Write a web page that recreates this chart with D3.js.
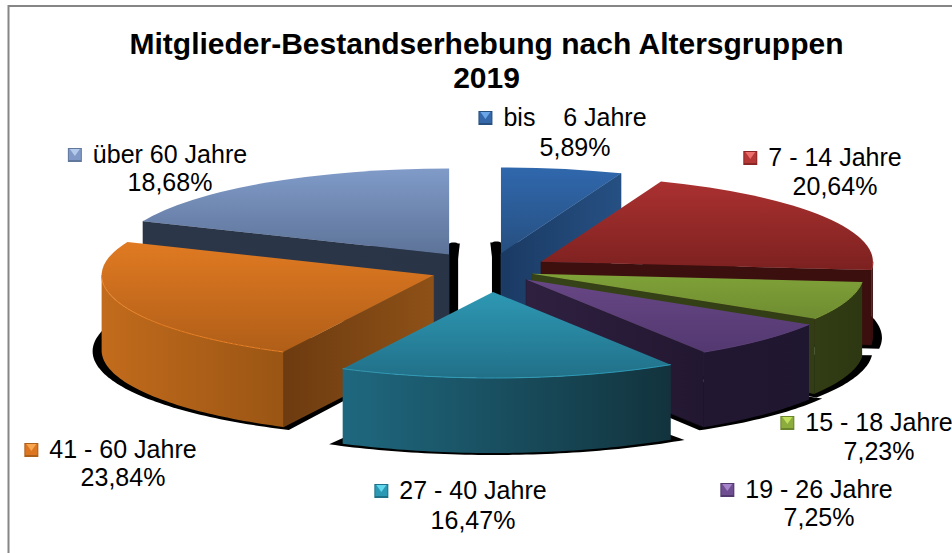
<!DOCTYPE html>
<html>
<head>
<meta charset="utf-8">
<script src="https://cdnjs.cloudflare.com/ajax/libs/d3/7.8.5/d3.min.js"></script>
<style>
  body { margin: 0; background: #fff; }
  text { font-family: "Liberation Sans", Arial, sans-serif; fill: #000; }
</style>
</head>
<body>
<div id="chart"></div>
<script>
var titleLines = ["Mitglieder-Bestandserhebung nach Altersgruppen", "2019"];
var categories = ["bis    6 Jahre", "7 - 14 Jahre", "15 - 18 Jahre", "19 - 26 Jahre", "27 - 40 Jahre", "41 - 60 Jahre", "über 60 Jahre"];
var shares = [5.89, 20.64, 7.23, 7.25, 16.47, 23.84, 18.68];
// how far each slice is pulled out of the pie, px along the x radius
var explosion = [65, 61, 45, 52, 85, 59, 72];

var width = 952, height = 553;
var cx = 489, cy = 270, rx = 332, ry = 86, depth = 75;

// back to front
var paintOrder = [6, 0, 1, 2, 3, 5, 4];

var topColors = [["#3068ad", "#264f80"], ["#aa3130", "#7c2120"], ["#7fa238", "#6f8c31"], ["#674785", "#533870"], ["#2e98b4", "#217088"], ["#e07a22", "#b05e18"], ["#809bc9", "#5d7398"]];
var wallColors = [["#1b3b65", "#275083"], ["#3d100e", "#3a0f0e"], ["#323d15", "#2d3812"], ["#221731", "#1f1630"], ["#1f687f", "#12333d"], ["#c26b1c", "#9a5514"], ["#2b3548", "#2b3548"]];
var faceColors = [["#1a3a63", "#265083"], ["#3d100e", "#3a0f0e"], ["#364217", "#323d15"], ["#2f2040", "#221731"], ["#1f687f", "#12333d"], ["#6d3b10", "#8e5117"], ["#2c3649", "#2a3447"]];
var rimColors = ["#4a7fc0", "#9c2d2c", "#7c9c38", "#5c3f7a", "#2f9ab6", "#ea8228", "#9bb4dc"];

var labelX = [575, 835, 879, 819, 473, 123, 170];
var labelY = [126, 166, 431, 498, 499, 458, 163];
var labelGap = [30, 29, 29, 28, 30, 28, 28];
var keyColors = [["#6aa5e8", "#3468aa", "#28507f"], ["#ec6f6c", "#b53736", "#8a2726"], ["#c0e05c", "#8cac3e", "#6a852c"], ["#a684cc", "#6f4f92", "#52396e"], ["#62d8ee", "#2c99b4", "#1f7188"], ["#f8a650", "#dc7621", "#ae5f18"], ["#b4caec", "#8099c6", "#62779c"]];

var svg = d3.select("#chart").append("svg")
  .attr("width", width)
  .attr("height", height);
var defs = svg.append("defs");

function addGradient(id, colors, vertical) {
  var g = defs.append("linearGradient").attr("id", id)
    .attr("x1", 0).attr("y1", 0)
    .attr("x2", vertical ? 0 : 1).attr("y2", vertical ? 1 : 0);
  g.append("stop").attr("offset", 0).attr("stop-color", colors[0]);
  g.append("stop").attr("offset", 1).attr("stop-color", colors[1]);
}

shares.forEach(function (d, i) {
  addGradient("top" + i, topColors[i], true);
  addGradient("wall" + i, wallColors[i], false);
  addGradient("face" + i, faceColors[i], false);
});

// frame, open to the right and bottom
svg.append("path")
  .attr("d", "M8.5," + height + "V6H" + width)
  .attr("fill", "none")
  .attr("stroke", "#868686")
  .attr("stroke-width", 2);

var titleG = svg.append("g").attr("class", "title");
titleG.selectAll("text")
  .data(titleLines)
  .enter().append("text")
  .attr("x", 486.5)
  .attr("y", function (d, i) { return 54 + i * 34; })
  .attr("text-anchor", "middle")
  .attr("font-weight", "bold")
  .attr("font-size", 30)
  .text(function (d) { return d; });

var pie = d3.pie().sort(null)
  .value(function (d) { return d; });
var slices = pie(shares);

var angleOf = function (d) { return (d.startAngle + d.endAngle) / 2; };
slices.forEach(function (d, i) {
  var mid = angleOf(d);
  d.index = i;
  d.px = cx + explosion[i] * Math.sin(mid);
  d.py = cy - explosion[i] * Math.cos(mid) * ry / rx;
});

function onRim(d, a, rxx, ryy, dy) {
  return [d.px + rxx * Math.sin(a), d.py - ryy * Math.cos(a) + (dy || 0)];
}

function arcPoints(d, a0, a1, rxx, ryy, dy) {
  var n = Math.max(2, Math.ceil(Math.abs(a1 - a0) / 0.02));
  return d3.range(n + 1).map(function (k) {
    return onRim(d, a0 + (a1 - a0) * k / n, rxx, ryy, dy);
  });
}

var poly = d3.line().curve(d3.curveLinearClosed);
var open = d3.line();
var spread = 1.8 * Math.PI / 180;

// black shadow under every slice
var shadowG = svg.append("g").attr("class", "shadows");
slices.forEach(function (d) {
  var pts = arcPoints(d, d.startAngle - spread, d.endAngle + spread, rx + 9, ry + 1, depth + 1);
  pts.push([d.px, d.py + depth + 3]);
  shadowG.append("path").attr("d", poly(pts)).attr("fill", "#000");

  // the slices next to 12 o'clock throw a strip along their straight edge
  if (d.startAngle === 0 || Math.abs(d.endAngle - 2 * Math.PI) < 1e-6) {
    shadowG.append("rect")
      .attr("x", d.startAngle === 0 ? d.px - 9 : d.px)
      .attr("y", d.py - 12)
      .attr("width", 9)
      .attr("height", depth + 12)
      .attr("rx", 3)
      .attr("fill", "#000");
  }
});

var arc = d3.arc().innerRadius(0).outerRadius(rx);

var sliceG = svg.append("g").attr("class", "slices").selectAll("g")
  .data(paintOrder.map(function (i) { return slices[i]; }))
  .enter().append("g");

// straight cut faces, only those turned to the viewer
sliceG.each(function (d) {
  var g = d3.select(this);
  var edges = [];
  if (Math.sin(d.startAngle) < -1e-6) edges.push(d.startAngle);
  if (Math.sin(d.endAngle) > 1e-6) edges.push(d.endAngle);
  edges.forEach(function (a) {
    var p = onRim(d, a, rx, ry);
    var pts = [[d.px, d.py], p, [p[0], p[1] + depth], [d.px, d.py + depth]];
    g.append("path").attr("d", poly(pts))
      .attr("fill", "url(#face" + d.index + ")")
      .attr("stroke", faceColors[d.index][1])
      .attr("stroke-width", 0.5);
  });

  // outer wall, front half of the ellipse only
  var a0 = Math.max(d.startAngle, Math.PI / 2), a1 = Math.min(d.endAngle, 3 * Math.PI / 2);
  if (a1 > a0) {
    var up = arcPoints(d, a0, a1, rx, ry);
    var down = arcPoints(d, a1, a0, rx, ry, depth);
    g.append("path").attr("d", poly(up.concat(down))).attr("fill", "url(#wall" + d.index + ")");
  }

  g.append("path")
    .attr("d", arc(d))
    .attr("transform", "translate(" + d.px + "," + d.py + ") scale(1," + (ry / rx) + ")")
    .attr("fill", "url(#top" + d.index + ")");

  // thin light rim where the top meets the wall
  if (a1 > a0) {
    g.append("path")
      .attr("d", open(arcPoints(d, a0, a1, rx, ry)))
      .attr("fill", "none")
      .attr("stroke", rimColors[d.index])
      .attr("stroke-width", 1);
  }
});

var fmt = d3.formatLocale({decimal: ",", thousands: ".", grouping: [3], currency: ["", "€"]}).format(".2f");

var labelG = svg.append("g").attr("class", "labels").selectAll("g")
  .data(slices)
  .enter().append("g");

labelG.each(function (d) {
  var g = d3.select(this), i = d.index;
  var name = g.append("text")
    .attr("x", labelX[i])
    .attr("y", labelY[i])
    .attr("text-anchor", "middle")
    .attr("font-size", 25)
    .attr("xml:space", "preserve")
    .style("white-space", "pre")
    .text(categories[i]);
  g.append("text")
    .attr("x", labelX[i])
    .attr("y", labelY[i] + labelGap[i])
    .attr("text-anchor", "middle")
    .attr("font-size", 25)
    .text(fmt(d.value) + "%");

  // small bevelled legend key left of the name
  var w = name.node().getComputedTextLength();
  var kx = labelX[i] - w / 2 - 25, ky = labelY[i] - 15, ks = 14;
  g.append("rect").attr("x", kx).attr("y", ky).attr("width", ks).attr("height", ks)
    .attr("fill", keyColors[i][2]);
  g.append("rect").attr("x", kx + 1).attr("y", ky + 1).attr("width", ks - 2).attr("height", ks - 3)
    .attr("fill", keyColors[i][1]);
  g.append("path")
    .attr("d", poly([[kx + 2, ky + 1], [kx + ks - 2, ky + 1], [kx + ks / 2, ky + ks / 2 + 1]]))
    .attr("fill", keyColors[i][0]);
});
</script>
</body>
</html>
